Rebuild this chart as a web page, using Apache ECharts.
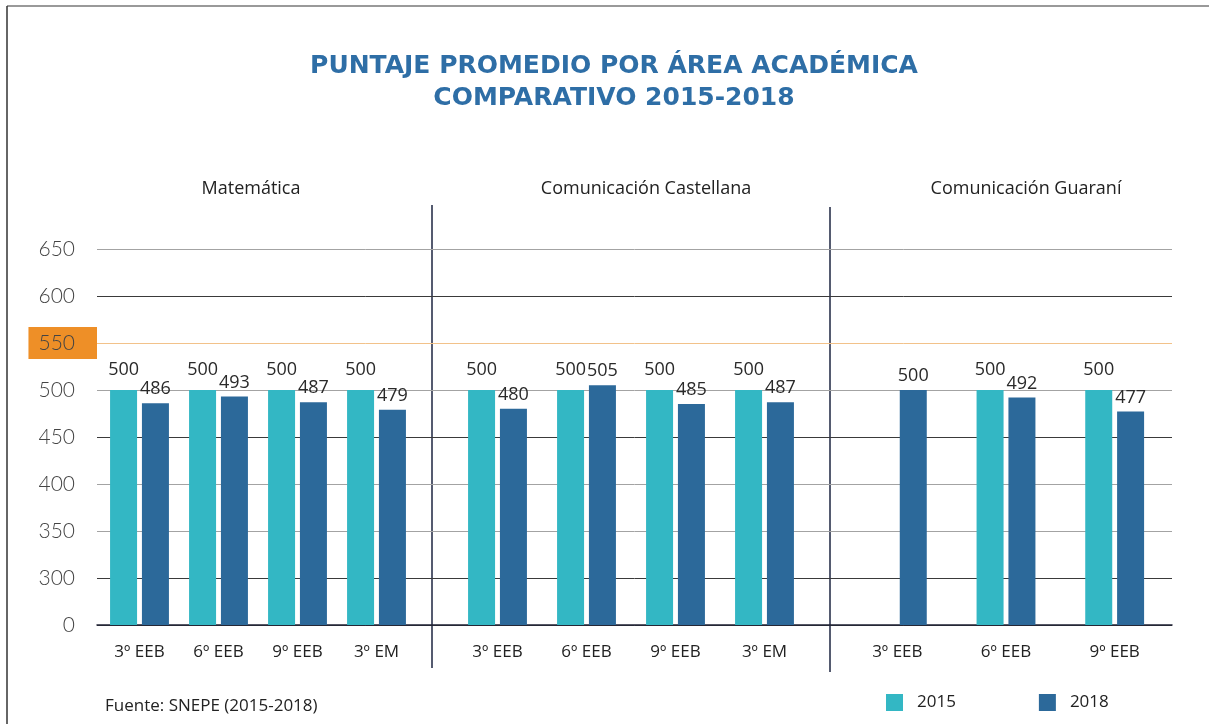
<!DOCTYPE html>
<html>
<head>
<meta charset="utf-8">
<script src="https://cdn.jsdelivr.net/npm/echarts@6/dist/echarts.min.js"></script>
<style>
  html, body { margin: 0; padding: 0; background: #fff; }
  #main { width: 1209px; height: 724px; }
</style>
</head>
<body>
<div id="main"></div>
<script>
// categories per area
const catMat = ['3º EEB', '6º EEB', '9º EEB', '3º EM']
const catCast = ['3º EEB', '6º EEB', '9º EEB', '3º EM']
const catGuar = ['3º EEB', '6º EEB', '9º EEB']

// scores
const mat2015 = [500, 500, 500, 500]
const mat2018 = [486, 493, 487, 479]
const cast2015 = [500, 500, 500, 500]
const cast2018 = [480, 505, 485, 487]
const guar2015 = [null, 500, 500]
const guar2018 = [500, 492, 477]

// broken axis: 0, then 300..650
const yTicks = [0, 300, 350, 400, 450, 500, 550, 600, 650]
const axisOffset = 250

const areaNames = ['Matemática', 'Comunicación Castellana', 'Comunicación Guaraní']

const c2015 = '#33b7c4'
const c2018 = '#2c699a'
const font = 'Open Sans'

const toAxis = arr => arr.map(v => (v == null ? null : v - axisOffset))

const chart = echarts.init(document.getElementById('main'))

const gTop = 249
const gBottom = 99
const subGrids = [
  { left: 100, width: 316 },
  { left: 453, width: 356 },
  { left: 843, width: 326 }
]
const cats = [catMat, catCast, catGuar]
const raw2015 = [mat2015, cast2015, guar2015]
const raw2018 = [mat2018, cast2018, guar2018]

const grids = [{ left: 97, right: 37, top: gTop, bottom: gBottom }]
const xAxes = [{
  gridIndex: 0, type: 'value', min: 0, max: 1,
  axisLine: { show: true, lineStyle: { color: '#1f2235', width: 1.5 } },
  axisTick: { show: false }, axisLabel: { show: false }, splitLine: { show: false }
}]
const yAxes = [{
  gridIndex: 0, type: 'value', min: 0, max: 400, interval: 50,
  axisLine: { show: false }, axisTick: { show: false },
  splitLine: {
    lineStyle: {
      width: 1,
      color: ['#3a3a3a', '#3a3a3a', '#a3a3a3', '#a3a3a3', '#3a3a3a', '#a3a3a3', '#f2c28a', '#3a3a3a', '#a3a3a3']
    }
  },
  axisLabel: {
    margin: 0,
    formatter: function (d) {
      const t = String(yTicks[Math.round(d / 50)])
      return t === '550' ? '{hl|' + t + '}' : '{n|' + t + '}'
    },
    rich: {
      n: { fontFamily: 'Lato', fontWeight: 300, fontSize: 21, lineHeight: 21, color: '#444', padding: [5, 22, 5, 10] },
      hl: { fontFamily: 'Lato', fontWeight: 300, fontSize: 21, lineHeight: 21, color: '#444', padding: [6, 22, 5, 10], backgroundColor: '#ee8f27' }
    }
  }
}]
const series = []

subGrids.forEach((g, i) => {
  const gi = i + 1
  grids.push({ left: g.left, width: g.width, top: gTop, bottom: gBottom })
  xAxes.push({
    gridIndex: gi, type: 'category', data: cats[i],
    axisLine: { show: false }, axisTick: { show: false },
    axisLabel: { margin: 19, fontFamily: font, fontSize: 17, color: '#222' }
  })
  yAxes.push({ gridIndex: gi, type: 'value', min: 0, max: 400, interval: 50, show: false, splitLine: { show: false } })
  const r15 = raw2015[i]
  const r18 = raw2018[i]
  series.push({
    name: '2015', type: 'bar', xAxisIndex: gi, yAxisIndex: gi,
    data: toAxis(r15), barWidth: 27, barGap: '18%',
    itemStyle: { color: c2015 },
    label: {
      show: true, position: 'top', distance: 11,
      fontFamily: font, fontSize: 18, color: '#2a2a2a',
      formatter: p => r15[p.dataIndex]
    }
  })
  series.push({
    name: '2018', type: 'bar', xAxisIndex: gi, yAxisIndex: gi,
    data: toAxis(r18), barWidth: 27, barGap: '18%',
    itemStyle: { color: c2018 },
    label: {
      show: true, position: 'top', distance: 5,
      fontFamily: font, fontSize: 18, color: '#2a2a2a',
      formatter: p => r18[p.dataIndex]
    }
  })
})

const areaCenters = [246, 641, 1021]
const titles = [{
  text: 'PUNTAJE PROMEDIO POR ÁREA ACADÉMICA\nCOMPARATIVO 2015-2018',
  left: 609, top: 45, textAlign: 'center',
  textStyle: { fontFamily: 'DejaVu Sans', fontSize: 25, fontWeight: 'bold', color: '#2e6ea6', lineHeight: 32 }
}, {
  text: 'Fuente: SNEPE (2015-2018)',
  left: 100, top: 693,
  textStyle: { fontFamily: font, fontSize: 17, fontWeight: 'normal', color: '#222' }
}]
areaNames.forEach((n, i) => {
  titles.push({
    text: n, left: areaCenters[i], top: 175, textAlign: 'center',
    textStyle: { fontFamily: font, fontSize: 18, fontWeight: 'normal', color: '#222' }
  })
})

chart.setOption({
  backgroundColor: '#fff',
  animation: false,
  title: titles,
  legend: {
    data: ['2015', '2018'], left: 886, top: 694, padding: 0,
    itemWidth: 17, itemHeight: 17, itemGap: 83, icon: 'rect',
    textStyle: { fontFamily: font, fontSize: 17, color: '#222', padding: [0, 0, 0, 9] }
  },
  grid: grids,
  xAxis: xAxes,
  yAxis: yAxes,
  series: series,
  graphic: [
    { type: 'line', shape: { x1: 7, y1: 6, x2: 1209, y2: 6 }, style: { stroke: '#777', lineWidth: 1.5 } },
    { type: 'line', shape: { x1: 7, y1: 6, x2: 7, y2: 724 }, style: { stroke: '#333', lineWidth: 1.5 } },
    { type: 'line', shape: { x1: 432, y1: 205, x2: 432, y2: 668 }, style: { stroke: '#1c2541', lineWidth: 1.5 } },
    { type: 'line', shape: { x1: 830, y1: 207, x2: 830, y2: 672 }, style: { stroke: '#1c2541', lineWidth: 1.5 } }
  ]
})
</script>
</body>
</html>
